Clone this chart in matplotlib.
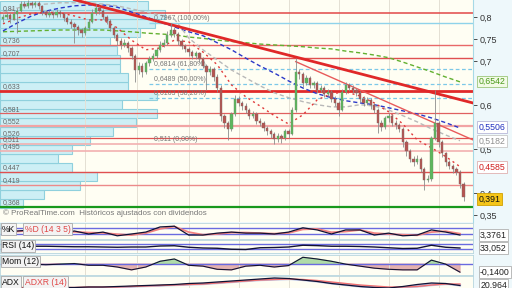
import numpy as np
import matplotlib
matplotlib.use("Agg")
import matplotlib.pyplot as plt

plt.rcParams['font.family'] = ['Liberation Sans', 'DejaVu Sans']

# ---- precios diarios (cierre, máximo, mínimo) ----
closes = [0.800, 0.805, 0.796, 0.808, 0.815, 0.830, 0.826, 0.833, 0.828, 0.832,
          0.825, 0.812, 0.806, 0.810, 0.805, 0.812, 0.808, 0.798, 0.790, 0.784,
          0.778, 0.770, 0.765, 0.775, 0.790, 0.810, 0.822, 0.815, 0.800, 0.792,
          0.775, 0.760, 0.745, 0.738, 0.742, 0.730, 0.712, 0.680, 0.690, 0.676,
          0.695, 0.705, 0.712, 0.725, 0.738, 0.742, 0.760, 0.772, 0.762, 0.745,
          0.735, 0.728, 0.720, 0.712, 0.718, 0.705, 0.690, 0.675, 0.682, 0.665,
          0.640, 0.575, 0.560, 0.545, 0.580, 0.615, 0.605, 0.598, 0.590, 0.575,
          0.580, 0.565, 0.560, 0.548, 0.540, 0.535, 0.522, 0.530, 0.525, 0.540,
          0.535, 0.590, 0.675, 0.670, 0.650, 0.662, 0.645, 0.650, 0.635, 0.640,
          0.625, 0.630, 0.615, 0.605, 0.590, 0.630, 0.645, 0.640, 0.635, 0.628,
          0.615, 0.605, 0.612, 0.600, 0.590, 0.560, 0.550, 0.570, 0.575, 0.560,
          0.555, 0.545, 0.515, 0.495, 0.478, 0.470, 0.478, 0.455, 0.430, 0.432,
          0.525, 0.560, 0.515, 0.490, 0.470, 0.462, 0.455, 0.448, 0.420, 0.391]
highs = [0.808, 0.812, 0.810, 0.815, 0.822, 0.838, 0.836, 0.839, 0.838, 0.837,
         0.836, 0.828, 0.816, 0.817, 0.814, 0.818, 0.816, 0.812, 0.802, 0.795,
         0.790, 0.783, 0.776, 0.780, 0.795, 0.818, 0.830, 0.826, 0.818, 0.805,
         0.796, 0.779, 0.765, 0.752, 0.750, 0.746, 0.734, 0.716, 0.698, 0.695,
         0.700, 0.712, 0.718, 0.730, 0.745, 0.750, 0.768, 0.787, 0.778, 0.766,
         0.750, 0.740, 0.733, 0.725, 0.724, 0.722, 0.709, 0.694, 0.690, 0.686,
         0.670, 0.645, 0.580, 0.565, 0.585, 0.622, 0.620, 0.610, 0.604, 0.594,
         0.586, 0.584, 0.570, 0.564, 0.552, 0.545, 0.538, 0.536, 0.534, 0.546,
         0.545, 0.596, 0.708, 0.682, 0.675, 0.668, 0.666, 0.656, 0.654, 0.646,
         0.644, 0.636, 0.634, 0.620, 0.610, 0.636, 0.652, 0.650, 0.646, 0.640,
         0.632, 0.620, 0.618, 0.616, 0.604, 0.594, 0.566, 0.576, 0.582, 0.579,
         0.566, 0.560, 0.550, 0.520, 0.500, 0.484, 0.486, 0.482, 0.460, 0.440,
         0.530, 0.635, 0.565, 0.520, 0.494, 0.476, 0.466, 0.460, 0.452, 0.424]
lows = [0.790, 0.795, 0.788, 0.793, 0.764, 0.812, 0.820, 0.822, 0.822, 0.824,
        0.818, 0.806, 0.800, 0.801, 0.798, 0.800, 0.800, 0.792, 0.784, 0.776,
        0.742, 0.760, 0.756, 0.760, 0.770, 0.786, 0.806, 0.808, 0.795, 0.785,
        0.768, 0.752, 0.738, 0.728, 0.732, 0.722, 0.705, 0.652, 0.672, 0.664,
        0.670, 0.690, 0.700, 0.708, 0.720, 0.732, 0.738, 0.755, 0.755, 0.738,
        0.728, 0.720, 0.712, 0.705, 0.706, 0.698, 0.684, 0.635, 0.668, 0.655,
        0.630, 0.565, 0.548, 0.520, 0.540, 0.575, 0.598, 0.590, 0.582, 0.568,
        0.570, 0.558, 0.552, 0.540, 0.532, 0.526, 0.511, 0.515, 0.514, 0.520,
        0.525, 0.532, 0.585, 0.660, 0.642, 0.645, 0.638, 0.640, 0.628, 0.630,
        0.618, 0.620, 0.608, 0.598, 0.575, 0.586, 0.625, 0.633, 0.628, 0.620,
        0.608, 0.598, 0.600, 0.592, 0.582, 0.537, 0.540, 0.545, 0.562, 0.552,
        0.546, 0.538, 0.505, 0.485, 0.470, 0.462, 0.465, 0.448, 0.407, 0.424,
        0.428, 0.520, 0.505, 0.482, 0.462, 0.455, 0.446, 0.440, 0.412, 0.382]
first_open = 0.795
opens = [first_open] + closes[:-1]

# medias móviles (leídas cada 4 sesiones)
ma_red = [0.785, 0.798, 0.808, 0.812, 0.810, 0.803, 0.794, 0.794, 0.776, 0.748, 0.726,
          0.730, 0.748, 0.744, 0.721, 0.692, 0.646, 0.619, 0.598, 0.576, 0.557, 0.578,
          0.612, 0.626, 0.630, 0.621, 0.605, 0.585, 0.557, 0.521, 0.503, 0.483, 0.460]
ma_grey = [0.812, 0.821, 0.828, 0.830, 0.833, 0.833, 0.833, 0.830, 0.826, 0.819, 0.812,
           0.805, 0.796, 0.753, 0.726, 0.703, 0.680, 0.662, 0.644, 0.628, 0.617, 0.608,
           0.601, 0.596, 0.596, 0.601, 0.598, 0.589, 0.576, 0.562, 0.546, 0.532, 0.519]
ma_blue = [0.769, 0.787, 0.803, 0.814, 0.821, 0.826, 0.828, 0.828, 0.823, 0.812, 0.801,
           0.789, 0.778, 0.767, 0.758, 0.742, 0.726, 0.707, 0.689, 0.673, 0.655, 0.639,
           0.626, 0.617, 0.610, 0.605, 0.601, 0.594, 0.587, 0.580, 0.571, 0.560, 0.548]
ma_green = [0.767, 0.768, 0.769, 0.770, 0.771, 0.771, 0.771, 0.771, 0.769, 0.767, 0.764,
            0.762, 0.760, 0.755, 0.752, 0.748, 0.745, 0.742, 0.739, 0.737, 0.735, 0.733,
            0.730, 0.728, 0.723, 0.719, 0.714, 0.708, 0.698, 0.687, 0.676, 0.664, 0.653]

# indicadores (cada 4 sesiones)
stoch_k = [40, 50, 60, 40, 31, 50, 22, 40, 5, 22, 40, 88, 95, 12, 12, 30, 40,
           30, 30, 22, 40, 80, 60, 22, 60, 60, 12, 30, 5, 12, 60, 40, 12]
stoch_d = [45, 45, 55, 50, 35, 42, 35, 32, 20, 12, 30, 70, 92, 40, 15, 22, 35,
           35, 30, 25, 32, 65, 70, 38, 45, 60, 30, 22, 15, 10, 40, 48, 25]
rsi = [54, 55, 52, 52, 50, 48, 48, 46, 44, 46, 46, 54, 56, 44, 38, 36, 28,
       26, 40, 42, 46, 60, 57, 52, 52, 50, 46, 40, 34, 36, 60, 44, 38]
mom = [0.0, 0.01, 0.0, -0.01, 0.0, 0.01, -0.02, -0.02, -0.05, -0.10, -0.05, 0.05, 0.09,
       -0.02, -0.035, -0.09, -0.10, -0.035, -0.02, -0.05, -0.025, 0.12, 0.09, 0.05, 0.0,
       -0.035, -0.07, -0.09, -0.10, -0.10, 0.07, 0.0, -0.14]
adx = [20, 20, 21, 21, 22, 22, 23, 23, 24, 25, 26, 27, 28, 30, 31, 33, 35,
       37, 39, 41, 40, 37, 34, 30, 27, 24, 22, 21, 24, 28, 31, 30, 26]
adxr = [22, 22, 22, 22, 22, 22, 23, 23, 23, 24, 25, 26, 27, 28, 29, 31, 33,
        35, 37, 38, 39, 38, 36, 33, 30, 27, 25, 23, 23, 24, 27, 29, 29]

# perfil de volumen por precio
vp_bottom = 0.366
vp_step = 0.0205
vp_volume = [23, 44, 80, 97, 72, 58, 72, 90, 113, 136, 157, 122, 157, 128, 128,
             120, 120, 117, 110, 140, 155, 165, 148]

# soportes / resistencias
sr_levels = [0.81, 0.736, 0.707, 0.633, 0.581, 0.552, 0.526, 0.511, 0.495, 0.447, 0.419, 0.368]
sr_labels = ['0,81', '0,736', '0,707', '0,633', '0,581', '0,552', '0,526', '0,511',
             '0,495', '0,447', '0,419', '0,368']

# retrocesos de Fibonacci
fib_levels = [0.7867, 0.6814, 0.6489, 0.6163, 0.511]
fib_labels = ['0,7867 (100,00%)', '0,6814 (61,80%)', '0,6489 (50,00%)',
              '0,6163 (38,20%)', '0,511 (0,00%)']
fib_start = 41

# líneas de tendencia
trend_main_x = [20, 131.6]
trend_main_y = [0.840, 0.605]
trend_thin_x = [82, 131.6]
trend_thin_y = [0.699, 0.521]

month_idx = [23, 37.5, 52, 66, 80, 94, 108, 122]

cream = '#fffef3'
W, H = 512, 288
fig = plt.figure(figsize=(5.12, 2.88), dpi=100)
fig.patch.set_facecolor('#eef8fb')

def panel(top, bottom):
    return fig.add_axes([0, (H - bottom) / H, 473 / W, (bottom - top) / H])

ax = panel(0, 222)
n = len(closes)
idx = np.arange(n)
xlim = (-0.84, 131.65)

# volumen por precio en eje gemelo, detrás de todo
axv = ax.twiny()
axv.set_zorder(0)
ax.set_zorder(1)
ax.patch.set_visible(False)
axv.patch.set_visible(True)
axv.patch.set_facecolor(cream)
vp_y = vp_bottom + vp_step * np.arange(len(vp_volume))
axv.barh(vp_y, vp_volume, height=vp_step, align='edge', color='#cdeff5',
         edgecolor='#8fd0dd', lw=0.8)
axv.set_xlim(0, 473)
axv.set_xticks([])
axv.tick_params(top=False, labeltop=False)
for s in axv.spines.values():
    s.set_visible(False)

ax.set_xlim(*xlim)
ax.set_ylim(0.334, 0.8393)

ax.set_xticks(month_idx)
ax.grid(axis='x', color='#e4e0d4', lw=0.7)
ax.tick_params(axis='x', bottom=False, labelbottom=False)

sr_colors = ['#e24848', '#e86868', '#e05050', '#e02a2a', '#e06060', '#f2a4a4',
             '#e05050', '#f2b0b0', '#f2b0b0', '#e05050', '#ec8a8a', '#18991c']
sr_widths = [1.1, 1.0, 1.0, 2.0, 0.9, 1.6, 0.9, 1.2, 1.2, 1.0, 1.0, 1.6]
for lvl, lab, col, lw in zip(sr_levels, sr_labels, sr_colors, sr_widths):
    ax.axhline(lvl, color=col, lw=lw, zorder=2)
    ax.text(3 / 473, lvl + 0.002, lab, transform=ax.get_yaxis_transform(),
            fontsize=5, color='#666666', va='bottom', zorder=6)

for k, (lvl, lab) in enumerate(zip(fib_levels, fib_labels)):
    if k == 0:
        ax.hlines(lvl, fib_start, xlim[1], color='#8fd3ea', lw=1.0, zorder=2)
    elif k < 4:
        ax.hlines(lvl, fib_start, xlim[1], color='#7cc8e8', lw=0.9, ls=(0, (3, 2)), zorder=2)
    ax.text(fib_start + 1.2, lvl + 0.002, lab, fontsize=5, color='#777777',
            va='bottom', zorder=6)

ind_idx = np.arange(0, n, 4)
ax.plot(ind_idx, ma_green, color='#62b030', lw=1.0, ls=(0, (3, 2)), zorder=3)
ax.plot(ind_idx, ma_blue, color='#2a38c8', lw=1.0, ls=(0, (3, 2)), zorder=3)
ax.plot(ind_idx, ma_grey, color='#b8b8b8', lw=1.0, ls=(0, (3, 2)), zorder=3)
ax.plot(ind_idx, ma_red, color='#e03a3a', lw=1.0, ls=(0, (1.5, 2.5)), zorder=3)

ax.plot(trend_main_x, trend_main_y, color='#e02828', lw=2.0, zorder=3)
ax.plot(trend_thin_x, trend_thin_y, color='#e85a5a', lw=1.0, zorder=3)

o = np.array(opens)
c = np.array(closes)
up = c >= o
ax.vlines(idx, lows, highs, color='#8c8c8c', lw=0.6, zorder=4)
ax.bar(idx[up], (c - o)[up], bottom=o[up], width=0.65, color='#5cb85c',
       edgecolor='#6f8f6f', lw=0.3, zorder=5)
ax.bar(idx[~up], (o - c)[~up], bottom=c[~up], width=0.65, color='#b85450',
       edgecolor='#7a6a6a', lw=0.3, zorder=5)

ax.text(3 / 473, 0.350, '\u00a9 ProRealTime.com  Históricos ajustados con dividendos',
        transform=ax.get_yaxis_transform(), fontsize=5.8, color='#777777', zorder=6)

ax.yaxis.tick_right()
yt = [0.35, 0.4, 0.5, 0.6, 0.7, 0.75, 0.8]
ax.set_yticks(yt)
ax.set_yticklabels([f'{v:g}'.replace('.', ',') for v in yt])
ax.tick_params(axis='y', labelsize=6.5, colors='#333333', length=3, pad=2, width=0.6)
for s in ['top', 'left', 'bottom']:
    ax.spines[s].set_visible(False)
ax.spines['right'].set_color('#a6d9e6')

tags = [(0.6542, '0,6542', '#4a9a1a', '#f2fae6', '#9cc67a'),
        (0.5506, '0,5506', '#2030c0', '#ffffff', '#b8b8d8'),
        (0.5182, '0,5182', '#909090', '#ffffff', '#c8c8c8'),
        (0.4585, '0,4585', '#d02020', '#ffffff', '#e0b0b0'),
        (0.386, '0,391', '#111111', '#f5c518', '#d0a000')]
for val, txt, tc, fc, ec in tags:
    ax.text(1.012, val, txt, transform=ax.get_yaxis_transform(), fontsize=6.3,
            color=tc, va='center', ha='left', zorder=7, clip_on=False,
            bbox=dict(boxstyle='square,pad=0.15', fc=fc, ec=ec, lw=0.6))

# ---- paneles de indicadores ----
def style_panel(a, value_txt, yval):
    a.set_facecolor(cream)
    a.set_xlim(*xlim)
    a.set_xticks(month_idx)
    a.grid(axis='x', color='#e4e0d4', lw=0.7)
    a.tick_params(left=False, bottom=False, labelleft=False, labelbottom=False)
    a.set_yticks([])
    for s in a.spines.values():
        s.set_color('#b9d6de')
        s.set_linewidth(0.6)
    a.text(1.015, yval, value_txt, transform=a.get_yaxis_transform(), fontsize=6.3,
           color='#222222', va='center', ha='left', clip_on=False,
           bbox=dict(boxstyle='square,pad=0.15', fc='#ffffff', ec='#b0b0b0', lw=0.6))

def label_box(a, x, txt, col):
    a.text(x, 0.90, txt, transform=a.transAxes, fontsize=6.2, color=col, va='top',
           ha='left', zorder=6,
           bbox=dict(boxstyle='square,pad=0.15', fc='#f3f3f3', ec='#a8a8a8', lw=0.6))

ax1 = panel(223, 239)
ax1.set_ylim(-25, 125)
ax1.axhline(80, color='#6a6ae0', lw=1.0)
ax1.axhline(20, color='#6a6ae0', lw=1.0)
ax1.plot(ind_idx, stoch_d, color='#f08080', lw=1.3)
ax1.plot(ind_idx, stoch_k, color='#111133', lw=0.9)
style_panel(ax1, '3,3761', stoch_k[-1])
label_box(ax1, 0.004, '%K', '#111111')
label_box(ax1, 0.052, '%D (14 3 5)', '#e04848')

ax2 = panel(240, 253)
ax2.set_ylim(-2, 102)
ax2.axhline(70, color='#6a6ae0', lw=1.0)
ax2.axhline(30, color='#6a6ae0', lw=1.0)
ax2.plot(ind_idx, rsi, color='#111133', lw=1.0)
style_panel(ax2, '33,052', rsi[-1])
label_box(ax2, 0.004, 'RSI (14)', '#111111')

ax3 = panel(255, 275)
ax3.set_ylim(-0.19, 0.16)
m = np.array(mom)
ax3.fill_between(ind_idx, m, 0, where=m >= 0, interpolate=True, color='#a8d8a0', alpha=0.9)
ax3.fill_between(ind_idx, m, 0, where=m < 0, interpolate=True, color='#e0a8a8', alpha=0.9)
ax3.axhline(0, color='#6a6ae0', lw=1.0)
ax3.plot(ind_idx, m, color='#111133', lw=0.8)
style_panel(ax3, '-0,1400', mom[-1])
label_box(ax3, 0.004, 'Mom (12)', '#111111')

ax4 = panel(276, 293)
ax4.set_ylim(11, 45)
ax4.fill_between(ind_idx, adx, adxr, color='#9aa8e0', alpha=0.6)
ax4.plot(ind_idx, adxr, color='#f07070', lw=1.0)
ax4.plot(ind_idx, adx, color='#111133', lw=0.9)
style_panel(ax4, '20,964', 27)
label_box(ax4, 0.004, 'ADX', '#111111')
label_box(ax4, 0.052, 'ADXR (14)', '#e04848')

fig.savefig('out.png', dpi=100, facecolor=fig.get_facecolor())
